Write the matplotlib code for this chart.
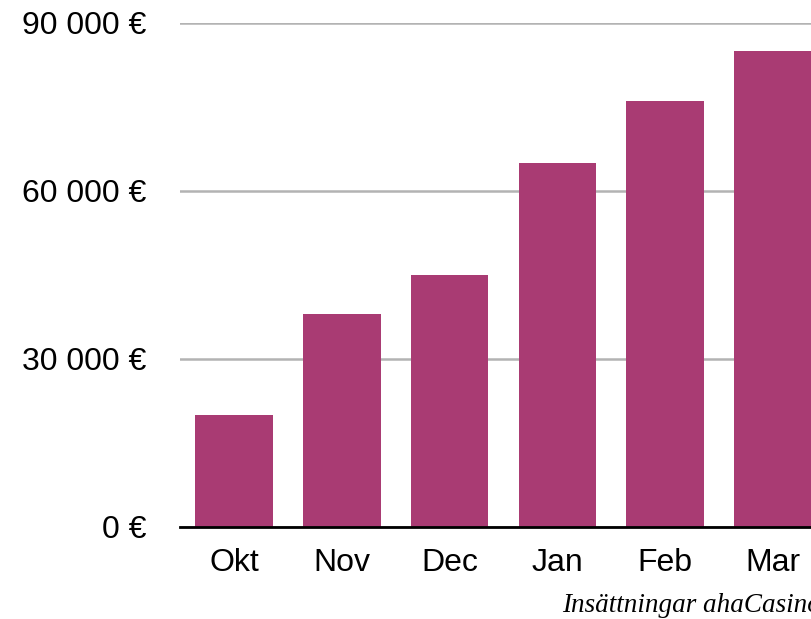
import matplotlib
matplotlib.use("Agg")
import matplotlib.pyplot as plt
from matplotlib.ticker import FuncFormatter

months   = ["Okt", "Nov", "Dec", "Jan", "Feb", "Mar"]
deposits = [20000, 38000, 45000, 65000, 76000, 85000]
yticks   = [0, 30000, 60000, 90000]
caption  = "Insättningar ahaCasino"

plt.rcParams["font.family"] = ["Liberation Sans", "DejaVu Sans"]

W, H = 811, 619
fig = plt.figure(figsize=(W / 100, H / 100), dpi=100)
# axes run past the right edge of the figure, like the cropped original
ax = fig.add_axes([180 / W, (H - 527) / H, 647 / W, 504 / H])

ax.bar(range(len(months)), deposits, width=0.72, color="#a93b73", zorder=3)

ax.set_xlim(-0.5, len(months) - 0.5)
ax.set_ylim(0, 90000)
ax.set_xticks(range(len(months)))
ax.set_xticklabels(months)
ax.set_yticks(yticks)
ax.yaxis.set_major_formatter(FuncFormatter(lambda v, _: f"{int(v):,} €".replace(",", " ")))

ax.tick_params(axis="both", length=0, labelsize=23, colors="black")
ax.tick_params(axis="y", pad=24)
ax.tick_params(axis="x", pad=15)

ax.grid(axis="y", color="#b3b3b3", linewidth=1.8, zorder=0)
ax.set_axisbelow(True)
for side in ("top", "right", "left"):
    ax.spines[side].set_visible(False)
ax.spines["bottom"].set_linewidth(2)
ax.spines["bottom"].set_color("black")
ax.spines["bottom"].set_zorder(4)

fig.text(562 / W, (H - 612) / H, caption, family="Liberation Serif",
         style="italic", fontsize=19.5, ha="left", va="baseline")

fig.savefig("out.png", dpi=100)
